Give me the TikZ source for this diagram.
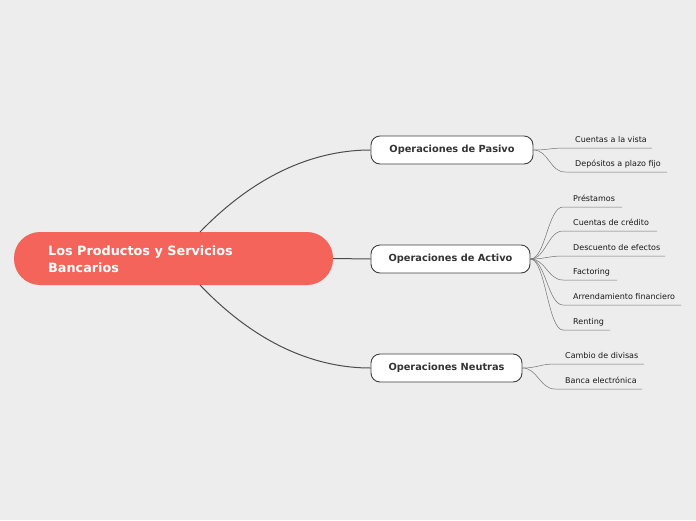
\documentclass[tikz,border=0pt]{standalone}
\usepackage{fontspec}
\setmainfont{DejaVu Sans}
\begin{document}
\begin{tikzpicture}[x=1pt,y=-1pt,
  sub/.style={draw=black!75,fill=white,rounded corners=9pt,line width=0.9pt,minimum height=28pt,inner sep=0pt,font=\bfseries\fontsize{9.8}{11}\selectfont,text=black!80},
  leaf/.style={font=\fontsize{8}{9}\selectfont,text=black!90,anchor=base west,inner sep=0pt},
  conn/.style={draw=black!70,line width=1pt},
  lconn/.style={draw=black!55,line width=0.5pt}]
\fill[black!7] (0,0) rectangle (696,520);
\useasboundingbox (0,0) rectangle (696,520);
\node[fill={rgb,255:red,244;green,100;blue,90},rounded corners=26pt,minimum width=319pt,minimum height=53pt,inner sep=0pt] (root) at (173.5,258.5) {};
\node[text=white,font=\bfseries\fontsize{12.8}{17}\selectfont,align=left,anchor=west,inner sep=0pt] (roott) at (48,259.5) {Los Productos y Servicios\\Bancarios};
\node[sub,minimum width=162pt] (pas) at (452,150) {Operaciones de Pasivo};
\node[sub,minimum width=159pt] (act) at (450.5,259) {Operaciones de Activo};
\node[sub,minimum width=151pt] (neu) at (446.5,368) {Operaciones Neutras};
\coordinate (rt) at (200,232);
\coordinate (rb) at (200,285);
\draw[conn] (rt) .. controls (260,170) and (320,150) .. (pas.west);
\draw[conn] (root.east) -- (act.west);
\draw[conn] (rb) .. controls (260,348) and (320,368) .. (neu.west);
\foreach \n/\sx/\ex/\y/\e/\t in {
 pas/565/652/148/p1/Cuentas a la vista,
 pas/565/667/172/p2/Depósitos a plazo fijo,
 act/563/622/207/a1/Préstamos,
 act/563/657/231/a2/Cuentas de crédito,
 act/563/665/256/a3/Descuento de efectos,
 act/563/617/280/a4/Factoring,
 act/563/681/305/a5/Arrendamiento financiero,
 act/563/610/330/a6/Renting,
 neu/555/644/364/n1/Cambio de divisas,
 neu/555/642/389/n2/Banca electrónica}{
  \coordinate (\e s) at (\sx,\y);
  \coordinate (\e e) at (\ex,\y);
  \node[leaf] (\e) at (\sx+10,\y-6) {\t};
  \draw[lconn] (\n.east) .. controls ([xshift=15]\n.east) and ([xshift=-15]\e s) .. (\e s) -- (\e e);
}
\end{tikzpicture}
\end{document}
